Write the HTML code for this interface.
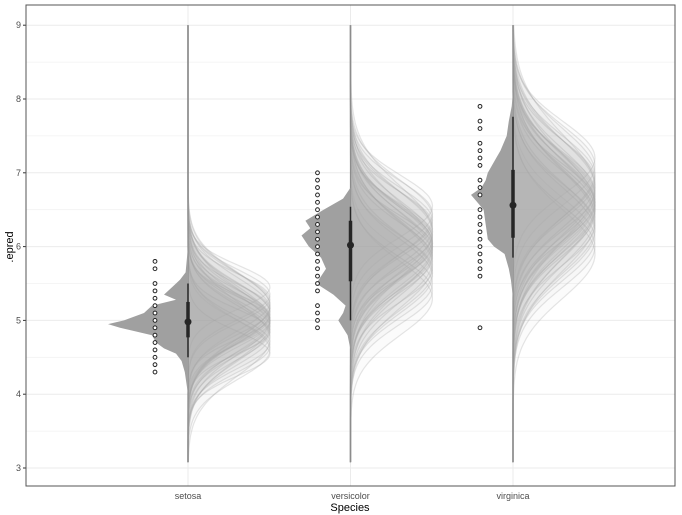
<!DOCTYPE html>
<html><head><meta charset="utf-8"><style>
body{margin:0;background:#fff}
svg{display:block;font-family:"Liberation Sans",sans-serif}
</style></head><body>
<svg id="chart" width="682" height="515" viewBox="0 0 682 515"></svg>
<script>
const categories=["setosa","versicolor","virginica"];
const yTicks=[3,4,5,6,7,8,9];
const dotValues=[
 [4.3,4.4,4.5,4.6,4.7,4.8,4.9,5.0,5.1,5.2,5.3,5.4,5.5,5.7,5.8],
 [4.9,5.0,5.1,5.2,5.4,5.5,5.6,5.7,5.8,5.9,6.0,6.1,6.2,6.3,6.4,6.5,6.6,6.7,6.8,6.9,7.0],
 [4.9,5.6,5.7,5.8,5.9,6.0,6.1,6.2,6.3,6.4,6.5,6.7,6.8,6.9,7.1,7.2,7.3,7.4,7.6,7.7,7.9]];
const densY=[
 [4.0,4.3,4.45,4.55,4.62,4.7,4.8,4.9,4.95,5.0,5.1,5.2,5.28,5.35,5.45,5.55,5.65,6.0],
 [4.6,4.8,5.0,5.1,5.2,5.35,5.5,5.7,5.85,6.0,6.15,6.25,6.35,6.5,6.65,6.8],
 [5.3,5.55,5.7,5.9,6.0,6.1,6.3,6.5,6.6,6.7,6.8,6.9,7.0,7.2,7.3,7.5,7.7,7.9,8.1]];
const densW=[
 [0,0.04,0.08,0.15,0.3,0.4,0.45,0.85,1.0,0.8,0.55,0.45,0.15,0.3,0.2,0.1,0.03,0],
 [0,0.06,0.25,0.15,0.1,0.35,0.7,0.5,0.6,0.85,1.0,0.82,0.92,0.55,0.15,0],
 [0,0.05,0.1,0.2,0.45,0.6,0.65,0.7,0.85,1.0,0.75,0.65,0.6,0.4,0.3,0.15,0.1,0.03,0]];
const densMax=[80,49,42];
const medians=[4.98,6.02,6.56];
const thick=[[4.77,5.25],[5.53,6.35],[6.12,7.04]];
const thin=[[4.5,5.5],[5.0,6.54],[5.85,7.76]];
const lineRange=[[3.08,9.0],[3.08,9.0],[3.08,9.0]];
const curveMeans=[
 [4.55,4.7,4.8,4.85,4.9,4.95,5.0,5.0,5.05,5.1,5.15,5.2,5.3,4.75,4.9,5.0,5.05,5.1,5.25,4.65,4.95,5.0,5.15,4.85,5.35,5.45,4.6,5.2],
 [5.4,5.6,5.7,5.8,5.9,5.95,6.0,6.05,6.1,6.2,6.3,6.4,5.75,5.85,6.0,6.15,6.25,5.65,6.35,5.9,6.05,6.1,6.0,5.5,6.45,6.55,5.3,6.2],
 [6.0,6.2,6.3,6.4,6.5,6.55,6.6,6.65,6.7,6.8,6.9,7.0,6.35,6.45,6.6,6.75,6.85,6.25,6.95,6.5,6.6,6.7,6.55,6.1,7.1,7.2,5.9,6.8]];
const curveSds=[
 [0.3,0.35,0.4,0.3,0.45,0.38,0.42,0.32,0.36,0.4,0.34,0.44,0.33,0.5,0.37,0.46,0.3,0.41,0.39,0.35,0.48,0.36,0.43,0.38,0.34,0.3,0.4,0.45],
 [0.45,0.5,0.45,0.55,0.48,0.52,0.42,0.5,0.46,0.54,0.44,0.5,0.58,0.47,0.53,0.43,0.49,0.51,0.45,0.56,0.48,0.52,0.6,0.46,0.44,0.42,0.5,0.62],
 [0.55,0.6,0.55,0.65,0.58,0.62,0.52,0.6,0.56,0.64,0.54,0.6,0.68,0.57,0.63,0.53,0.59,0.61,0.55,0.66,0.58,0.62,0.7,0.56,0.54,0.5,0.6,0.72]];
const NS="http://www.w3.org/2000/svg";
const svg=document.getElementById('chart');
const L=26,R=675,T=5,B=486;
const y=v=>468-(v-3)*73.8;
const x=i=>188+i*162.5;
function mk(t,a,p){const e=document.createElementNS(NS,t);for(const k in a)e.setAttribute(k,a[k]);(p||svg).appendChild(e);return e;}
for(let v=3;v<=9;v+=0.5){const g=mk('line',{x1:L,x2:R,y1:y(v),y2:y(v),stroke:Number.isInteger(v)?'#ebebeb':'#f2f2f2','stroke-width':Number.isInteger(v)?1:0.8});

}
categories.forEach((c,i)=>{const g=mk('line',{x1:x(i),x2:x(i),y1:T,y2:B,stroke:'#ebebeb'});

});
categories.forEach((c,i)=>{
 const grp=mk('g',{});
 
 
 curveMeans[i].forEach((m,j)=>{
  const s=curveSds[i][j];let d='';
  for(let v=lineRange[i][0];v<=lineRange[i][1];v+=0.04){
   const w=82*Math.exp(-0.5*((v-m)/s)**2);
   d+=(d?'L':'M')+(x(i)+w).toFixed(1)+','+y(v).toFixed(1);}
  const p=mk('path',{d:d,fill:'rgba(170,170,170,0.045)',stroke:'rgba(170,170,170,0.3)','stroke-width':1.2},grp);
  
  
 });
 const cl=mk('line',{x1:x(i),x2:x(i),y1:y(lineRange[i][0]),y2:y(lineRange[i][1]),stroke:'#8c8c8c','stroke-width':1.2},grp);
 
 
 let d='M'+x(i)+','+y(densY[i][0]);
 densY[i].forEach((v,k)=>{d+='L'+(x(i)-densW[i][k]*densMax[i]).toFixed(1)+','+y(v).toFixed(1);});
 d+='L'+x(i)+','+y(densY[i][densY[i].length-1])+'Z';
 const de=mk('path',{d:d,fill:'#a0a0a0',stroke:'none'},grp);
 
 
 const t1=mk('line',{x1:x(i),x2:x(i),y1:y(thin[i][0]),y2:y(thin[i][1]),stroke:'#262626','stroke-width':1.5},grp);
 
 
 const t2=mk('line',{x1:x(i),x2:x(i),y1:y(thick[i][0]),y2:y(thick[i][1]),stroke:'#262626','stroke-width':3.5},grp);
 
 
 const md=mk('circle',{cx:x(i),cy:y(medians[i]),r:3.5,fill:'#262626'},grp);
 
 
 dotValues[i].forEach(v=>{const dc=mk('circle',{cx:x(i)-33,cy:y(v),r:1.9,fill:'#fff',stroke:'#222','stroke-width':1},grp);
  
  });
 const tl=mk('text',{x:x(i),y:499,'text-anchor':'middle','font-size':9,fill:'#4d4d4d'});tl.textContent=c;
 
 
});
yTicks.forEach(v=>{const t=mk('text',{x:21,y:y(v)+3,'text-anchor':'end','font-size':9,fill:'#4d4d4d'});t.textContent=v;
 
 
 const tk=mk('line',{x1:23,x2:26,y1:y(v),y2:y(v),stroke:'#333'});
 
 });
const border=mk('rect',{x:L,y:T,width:R-L,height:B-T,fill:'none',stroke:'#555','stroke-width':1});


const xt=mk('text',{x:350,y:511,'text-anchor':'middle','font-size':11,fill:'#000'});xt.textContent='Species';


const yt=mk('text',{x:13,y:247,'text-anchor':'middle','font-size':11,fill:'#000',transform:'rotate(-90 13 247)'});yt.textContent='.epred';


</script>
</body></html>
